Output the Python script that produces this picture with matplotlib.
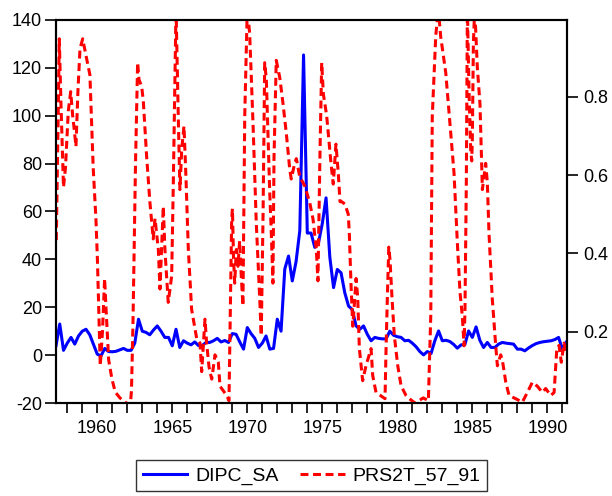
import matplotlib
matplotlib.use("Agg")
import matplotlib.pyplot as plt
from matplotlib.ticker import MultipleLocator, FixedLocator

plt.rcParams['font.family'] = ['Liberation Sans', 'DejaVu Sans']

# ---- DIPC_SA: quarterly, 1957Q2 .. 1991Q2 ----
blue_start = 1957.25
blue_v = [3.9, 13, 2, 5, 7.4, 4.6, 8, 10, 10.8, 8.5,
          4.5, 0.4, -0.3, 2.8, 1.5, 1.4, 1.6, 2.2, 2.8, 2,
          2, 5, 15, 10, 9.5, 8.5, 10.5, 12.2, 10, 7.4,
          7.4, 3.9, 10.8, 3.2, 6, 5, 4.3, 5.5, 4, 4,
          5.3, 5.3, 6, 7, 5.5, 6.1, 5.3, 9, 8.7, 5.5,
          2.5, 11.5, 9, 7, 3.2, 5, 8, 2.5, 2.8, 15,
          10, 36, 41.4, 31, 39, 52, 125.4, 51, 51, 45,
          47, 55, 65.7, 41, 28.2, 35.8, 34.4, 26, 20.5, 19,
          12.2, 10.8, 12.2, 8.7, 6, 7.4, 7, 6.8, 6.8, 10,
          8.3, 7.7, 7.4, 6, 6.2, 5, 3.5, 1.5, 0.1, 1.5,
          0.7, 6, 10.1, 6, 6.2, 5.7, 4.5, 2.9, 4.3, 4.3,
          10.1, 7.4, 11.8, 6.2, 3.2, 5.3, 3.2, 3.2, 4.6, 5.3,
          5, 4.8, 4.6, 2.5, 2.5, 1.8, 3, 4, 4.8, 5.3,
          5.6, 5.8, 6, 6.5, 7.4, 2.5, 5.3]
blue_t = [blue_start + 0.25 * i for i in range(len(blue_v))]

# ---- PRS2T_57_91: probability series (right axis) ----
red_t = [1957.27, 1957.47, 1957.58, 1957.75, 1957.88, 1958.07, 1958.23, 1958.36, 1958.45, 1958.58,
         1958.71, 1958.85, 1959.03, 1959.25, 1959.51, 1959.73, 1959.91, 1960.01, 1960.20, 1960.35,
         1960.49, 1960.58, 1960.76, 1960.98, 1961.20, 1961.51, 1961.87, 1962.20, 1962.28, 1962.38,
         1962.55, 1962.69, 1962.78, 1962.96, 1963.07, 1963.29, 1963.51, 1963.73, 1963.85, 1964.07,
         1964.18, 1964.40, 1964.51, 1964.73, 1964.96, 1965.07, 1965.25, 1965.40, 1965.51, 1965.63,
         1965.78, 1965.91, 1966.07, 1966.29, 1966.63, 1966.85, 1966.96, 1967.18, 1967.29, 1967.45,
         1967.63, 1967.85, 1968.07, 1968.18, 1968.63, 1968.78, 1968.96, 1969.01, 1969.08, 1969.16,
         1969.27, 1969.38, 1969.49, 1969.60, 1969.71, 1969.83, 1970.00, 1970.16, 1970.38, 1970.60,
         1970.83, 1970.93, 1971.05, 1971.16, 1971.27, 1971.38, 1971.49, 1971.60, 1971.71, 1971.78,
         1971.93, 1972.16, 1972.38, 1972.60, 1972.83, 1972.93, 1973.16, 1973.27, 1973.49, 1973.83,
         1974.16, 1974.38, 1974.60, 1974.71, 1974.85, 1974.96, 1975.07, 1975.29, 1975.58, 1975.73,
         1975.91, 1976.07, 1976.18, 1976.29, 1976.51, 1976.73, 1976.80, 1976.91, 1977.03, 1977.13,
         1977.25, 1977.36, 1977.47, 1977.69, 1977.91, 1978.25, 1978.36, 1978.58, 1979.03, 1979.18,
         1979.25, 1979.33, 1979.43, 1979.51, 1979.65, 1979.80, 1980.03, 1980.25, 1980.58, 1980.73,
         1981.18, 1981.73, 1982.07, 1982.23, 1982.33, 1982.56, 1982.73, 1982.89, 1983.23, 1983.56,
         1983.78, 1984.00, 1984.18, 1984.33, 1984.45, 1984.51, 1984.60, 1984.67, 1984.78, 1984.89,
         1984.96, 1985.00, 1985.07, 1985.16, 1985.33, 1985.51, 1985.67, 1985.78, 1985.89, 1986.00,
         1986.11, 1986.33, 1986.56, 1986.67, 1986.89, 1987.00, 1987.23, 1987.45, 1987.89, 1988.33,
         1988.67, 1989.00, 1989.33, 1989.67, 1989.89, 1990.23, 1990.45, 1990.63, 1990.78, 1990.93,
         1991.11, 1991.25]
red_v = [0.434, 0.948, 0.783, 0.569, 0.618, 0.764, 0.813, 0.752, 0.722, 0.673,
         0.813, 0.923, 0.948, 0.905, 0.856, 0.618, 0.489, 0.385, 0.113, 0.202,
         0.336, 0.263, 0.128, 0.079, 0.046, 0.031, 0.020, 0.012, 0.049, 0.220,
         0.630, 0.887, 0.844, 0.826, 0.789, 0.648, 0.530, 0.437, 0.489, 0.410,
         0.309, 0.520, 0.410, 0.275, 0.342, 0.581, 1.027, 0.750, 0.563, 0.666,
         0.725, 0.597, 0.410, 0.257, 0.182, 0.171, 0.098, 0.232, 0.171, 0.110,
         0.079, 0.141, 0.122, 0.061, 0.037, 0.024, 0.489, 0.514, 0.391, 0.324,
         0.410, 0.367, 0.432, 0.342, 0.266, 0.750, 1.027, 0.960, 0.734, 0.477,
         0.284, 0.190, 0.495, 0.887, 0.844, 0.707, 0.563, 0.452, 0.324, 0.642,
         0.893, 0.850, 0.783, 0.707, 0.615, 0.590, 0.630, 0.642, 0.597, 0.572,
         0.530, 0.488, 0.410, 0.330, 0.666, 0.887, 0.807, 0.752, 0.630, 0.577,
         0.679, 0.602, 0.532, 0.532, 0.526, 0.500, 0.452, 0.324, 0.214, 0.266,
         0.336, 0.287, 0.157, 0.075, 0.113, 0.157, 0.088, 0.045, 0.033, 0.029,
         0.157, 0.279, 0.416, 0.385, 0.284, 0.190, 0.113, 0.062, 0.037, 0.031,
         0.018, 0.031, 0.024, 0.241, 0.750, 0.954, 1.027, 0.954, 0.861, 0.707,
         0.605, 0.428, 0.300, 0.241, 0.164, 0.257, 0.581, 1.027, 0.813, 0.666,
         0.636, 0.691, 0.936, 1.027, 0.877, 0.781, 0.563, 0.597, 0.630, 0.581,
         0.452, 0.284, 0.164, 0.113, 0.141, 0.128, 0.071, 0.037, 0.029, 0.020,
         0.045, 0.071, 0.061, 0.045, 0.055, 0.037, 0.045, 0.156, 0.165, 0.122,
         0.171, 0.147]
assert len(red_t) == len(red_v)

series_names = ["DIPC_SA", "PRS2T_57_91"]
left_ticks = [-20, 0, 20, 40, 60, 80, 100, 120, 140]
right_ticks = [0.2, 0.4, 0.6, 0.8]
right_tick_labels = ["0.2", "0.4", "0.6", "0.8"]
year_labels = [1960, 1965, 1970, 1975, 1980, 1985, 1990]

fig = plt.figure(figsize=(6.12, 4.96), dpi=100)
ax = fig.add_axes([56 / 612, 1 - 403 / 496, (567 - 56) / 612, (403 - 20) / 496])
l1, = ax.plot(blue_t, blue_v, color="#0000ff", lw=2.2)
ax2 = ax.twinx()
l2, = ax2.plot(red_t, red_v, color="#ff0000", lw=2.2, linestyle=(0, (2.6, 1.5)))

ax.set_xlim(1957.25, 1991.31)
ax.set_ylim(-20, 140)
ax2.set_ylim(0.018, 0.996)

ax.xaxis.set_major_locator(FixedLocator(year_labels))
ax.xaxis.set_minor_locator(MultipleLocator(1))
ax.set_yticks(left_ticks)
ax.set_yticklabels([str(v) for v in left_ticks])
ax2.set_yticks(right_ticks)
ax2.set_yticklabels(right_tick_labels)

ax.tick_params(axis="x", which="both", direction="out", length=7, width=1.2,
               labelsize=13, pad=5, top=False)
ax.tick_params(axis="y", direction="out", length=8, width=1.2, labelsize=13, pad=2)
ax2.tick_params(axis="y", direction="out", length=8, width=1.2, labelsize=13, pad=4)

for a in (ax, ax2):
    for s in a.spines.values():
        s.set_linewidth(1.5)
        s.set_color("black")

leg = fig.legend([l1, l2], series_names, loc="center", bbox_to_anchor=(0.509, 0.041),
                 ncol=2, frameon=True, fancybox=False, edgecolor="black",
                 fontsize=14, handlelength=2.3, columnspacing=1.1,
                 handletextpad=0.4, borderpad=0.35)
leg.get_frame().set_linewidth(1.0)

fig.savefig("out.png", dpi=100)
